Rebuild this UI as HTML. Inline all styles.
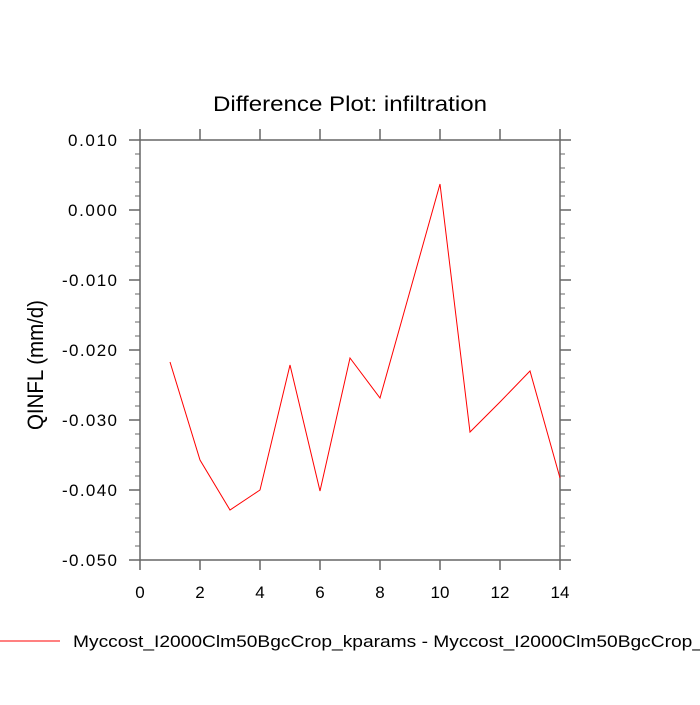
<!DOCTYPE html>
<html><head><style>body{margin:0;background:#fff}</style></head><body>
<svg width="700" height="700" xmlns="http://www.w3.org/2000/svg" font-family="Liberation Sans, sans-serif">
<rect width="700" height="700" fill="#fff"/>
<text x="213" y="111" font-size="21" textLength="274" lengthAdjust="spacingAndGlyphs">Difference Plot: infiltration</text>
<g stroke="#666" stroke-width="1.5" fill="none">
<rect x="140" y="140" width="420" height="420"/>
<path d="M140,140h-11M140,210h-11M140,280h-11M140,350h-11M140,420h-11M140,490h-11M140,560h-11
M560,140h11M560,210h11M560,280h11M560,350h11M560,420h11M560,490h11M560,560h11
M140,560v10M200,560v10M260,560v10M320,560v10M380,560v10M440,560v10M500,560v10M560,560v10
M140,140v-11M200,140v-11M260,140v-11M320,140v-11M380,140v-11M440,140v-11M500,140v-11M560,140v-11"/>
<path stroke-width="1" d="M140,154h-5M140,168h-5M140,182h-5M140,196h-5M140,224h-5M140,238h-5M140,252h-5M140,266h-5M140,294h-5M140,308h-5M140,322h-5M140,336h-5M140,364h-5M140,378h-5M140,392h-5M140,406h-5M140,434h-5M140,448h-5M140,462h-5M140,476h-5M140,504h-5M140,518h-5M140,532h-5M140,546h-5
M560,154h5M560,168h5M560,182h5M560,196h5M560,224h5M560,238h5M560,252h5M560,266h5M560,294h5M560,308h5M560,322h5M560,336h5M560,364h5M560,378h5M560,392h5M560,406h5M560,434h5M560,448h5M560,462h5M560,476h5M560,504h5M560,518h5M560,532h5M560,546h5"/>
</g>
<g font-size="17" lengthAdjust="spacingAndGlyphs">
<text x="68" y="146" textLength="49">0.010</text><text x="68" y="216" textLength="49">0.000</text><text x="62" y="286" textLength="55">-0.010</text><text x="62" y="356" textLength="55">-0.020</text><text x="62" y="426" textLength="55">-0.030</text><text x="62" y="496" textLength="55">-0.040</text><text x="62" y="566" textLength="55">-0.050</text>
</g>
<g font-size="17" text-anchor="middle">
<text x="140" y="598">0</text><text x="200" y="598">2</text><text x="260" y="598">4</text><text x="320" y="598">6</text><text x="380" y="598">8</text><text x="440" y="598">10</text><text x="500" y="598">12</text><text x="560" y="598">14</text>
</g>
<text transform="translate(43,430) rotate(-90)" font-size="22" textLength="130" lengthAdjust="spacingAndGlyphs">QINFL  (mm/d)</text>
<polyline fill="none" stroke="#f00" stroke-width="1" points="170,362 200,460 230,510 260,490 290,365 320,491 350,358 380,398 410,291 440,184 470,432 500,402 530,371 560,478"/>
<line x1="0" y1="641" x2="60" y2="641" stroke="#f00" stroke-width="1"/>
<text x="73" y="647" font-size="17" textLength="630" lengthAdjust="spacingAndGlyphs">Myccost_I2000Clm50BgcCrop_kparams - Myccost_I2000Clm50BgcCrop_</text>
</svg>
</body></html>
